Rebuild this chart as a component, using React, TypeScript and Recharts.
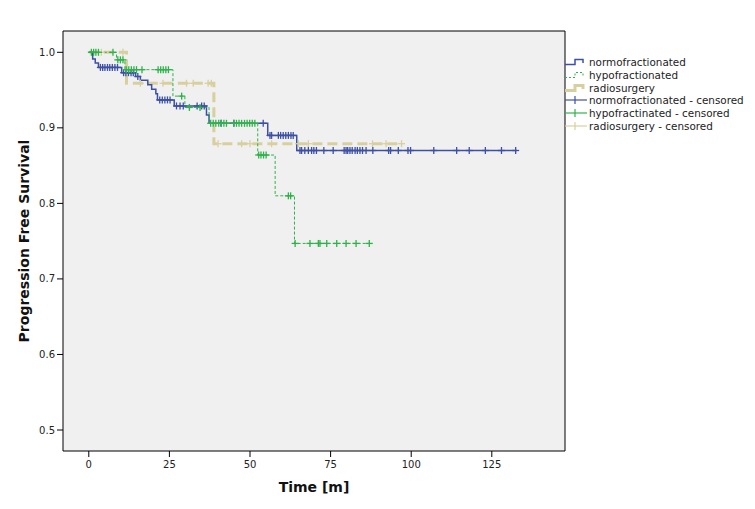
import React from "react";
import { ComposedChart, Line, Scatter, XAxis, YAxis, CartesianGrid, ReferenceArea } from "recharts";

const FONT = "'DejaVu Sans', sans-serif";
const BLUE = "#3d50a5";
const GREEN = "#2fb24a";
const TAN = "#d8cf9f";

// step curves (time in months, survival)
const normoT = [0, 1.2, 2.0, 3.0, 10.2, 14.5, 16.0, 18.3, 19.5, 20.8, 21.3, 26.5, 36.5, 37.3, 55.5, 64.5, 132.7];
const normoS = [1.0, 0.991, 0.986, 0.98, 0.973, 0.968, 0.963, 0.957, 0.951, 0.945, 0.937, 0.929, 0.917, 0.906, 0.89, 0.87, 0.87];

const hypoT = [0, 8.6, 11.2, 26.1, 29.8, 37.3, 52.4, 57.8, 63.8, 87.0];
const hypoS = [1.0, 0.99, 0.977, 0.942, 0.927, 0.906, 0.864, 0.81, 0.747, 0.747];

const radioT = [0, 11.7, 38.8, 97.2];
const radioS = [1.0, 0.959, 0.879, 0.879];

// censored times
const normoCens = [3.6, 4.3, 5.0, 5.8, 6.5, 7.3, 8.1, 8.9, 10.8, 11.5, 12.3, 13.1, 13.8, 15.2, 22.0, 22.8, 23.6, 24.4, 25.2, 27.2, 28.3, 29.3, 33.6, 35.0, 35.8, 41.0, 45.0, 54.1, 56.2, 56.7, 58.8, 59.5, 60.3, 61.1, 61.9, 62.7, 63.4, 65.5, 66.0, 67.0, 68.1, 69.1, 69.8, 70.6, 72.9, 75.8, 79.2, 79.8, 80.3, 81.0, 81.7, 82.6, 83.3, 84.1, 84.9, 86.0, 88.1, 93.0, 93.6, 96.0, 99.0, 99.8, 107.0, 114.1, 118.0, 123.0, 128.0, 132.4];
const hypoCens = [0.8, 1.5, 2.2, 3.0, 7.5, 9.0, 9.8, 10.6, 11.6, 12.4, 13.2, 14.0, 14.8, 16.5, 21.5, 22.3, 23.1, 23.9, 24.7, 28.8, 31.2, 34.5, 37.8, 38.6, 39.4, 40.3, 41.1, 41.9, 42.7, 45.0, 45.8, 46.6, 47.4, 48.3, 49.1, 49.9, 50.7, 51.5, 52.7, 53.4, 54.2, 55.0, 61.9, 62.6, 64.0, 68.6, 71.2, 71.7, 73.8, 76.9, 79.8, 82.9, 87.0];
const radioCens = [3.9, 10.6, 16.0, 23.0, 30.3, 32.4, 37.0, 38.0, 40.1, 47.4, 50.0, 56.7, 65.0, 68.1, 88.0, 92.2, 97.0];

const xTicks = [0, 25, 50, 75, 100, 125];
const yTicks = [0.5, 0.6, 0.7, 0.8, 0.9, 1.0];

const legendItems = [
  { label: "normofractionated", color: BLUE, kind: "step", dash: undefined, w: 1.5 },
  { label: "hypofractionated", color: GREEN, kind: "step", dash: "2 2", w: 1 },
  { label: "radiosurgery", color: TAN, kind: "step", dash: undefined, w: 3 },
  { label: "normofractionated - censored", color: BLUE, kind: "cens" },
  { label: "hypofractinated - censored", color: GREEN, kind: "cens" },
  { label: "radiosurgery - censored", color: TAN, kind: "cens" },
];

const steps = (ts: number[], ss: number[]) => ts.map((t, i) => ({ t, s: ss[i] }));
const levelAt = (ts: number[], ss: number[], t: number) => {
  let s = ss[0];
  for (let i = 0; i < ts.length; i++) if (ts[i] <= t) s = ss[i];
  return s;
};
const censored = (times: number[], ts: number[], ss: number[]) => times.map((t) => ({ t, s: levelAt(ts, ss, t) }));

const plus = (color: string) => (p: any) => (
  <g stroke={color} strokeWidth={1.3}>
    <line x1={p.cx - 3.5} x2={p.cx + 3.5} y1={p.cy} y2={p.cy} />
    <line x1={p.cx} x2={p.cx} y1={p.cy - 3.5} y2={p.cy + 3.5} />
  </g>
);

const tickStyle = { fontSize: 10, fill: "#222", fontFamily: FONT };

function Legend() {
  return (
    <div style={{ position: "absolute", left: 565, top: 56, fontFamily: FONT, fontSize: 10.4, color: "#222" }}>
      {legendItems.map((it) => (
        <div key={it.label} style={{ display: "flex", alignItems: "center", height: 12.7, whiteSpace: "nowrap" }}>
          <svg width={24} height={12} style={{ display: "block" }}>
            {it.kind === "step" ? (
              <path d="M0 8.5H10V3.5H18V7" fill="none" stroke={it.color} strokeWidth={it.w} strokeDasharray={it.dash} />
            ) : (
              <g stroke={it.color} strokeWidth={1.2}>
                <line x1={0} x2={22} y1={6} y2={6} />
                <line x1={10} x2={10} y1={2} y2={10} />
              </g>
            )}
          </svg>
          <span>{it.label}</span>
        </div>
      ))}
    </div>
  );
}

export default function App() {
  const X0 = -8;
  const X1 = 147.7;
  const Y0 = 0.4722;
  const Y1 = 1.0282;
  return (
    <div style={{ position: "relative", width: 755, height: 509, margin: -8, background: "#fff" }}>
      <ComposedChart width={755} height={509} margin={{ top: 31, right: 190, bottom: 28, left: 3 }}>
        <CartesianGrid fill="#f0f0f0" horizontal={false} vertical={false} />
        <XAxis
          type="number"
          dataKey="t"
          domain={[X0, X1]}
          allowDataOverflow
          ticks={xTicks}
          height={30}
          tickSize={6}
          tickMargin={4}
          axisLine={false}
          tickLine={{ stroke: "#000" }}
          tick={tickStyle}
          label={(props: any) => {
            const vb = props.viewBox;
            return (
              <text x={vb.x + vb.width / 2} y={492} textAnchor="middle" fontFamily={FONT} fontWeight="bold" fontSize={14} fill="#111">
                Time [m]
              </text>
            );
          }}
        />
        <YAxis
          type="number"
          domain={[Y0, Y1]}
          allowDataOverflow
          ticks={yTicks}
          width={60}
          tickSize={6}
          tickMargin={2}
          axisLine={false}
          tickLine={{ stroke: "#000" }}
          tick={tickStyle}
          tickFormatter={(v: number) => v.toFixed(1)}
          label={(props: any) => {
            const vb = props.viewBox;
            const cy = vb.y + vb.height / 2;
            return (
              <text x={29} y={cy} transform={`rotate(-90 29 ${cy})`} textAnchor="middle" fontFamily={FONT} fontWeight="bold" fontSize={14} fill="#111">
                Progression Free Survival
              </text>
            );
          }}
        />
        <ReferenceArea x1={X0} x2={X1} y1={Y0} y2={Y1} fill="none" stroke="#000" strokeWidth={1} />
        <Line data={steps(radioT, radioS)} dataKey="s" type="stepAfter" stroke={TAN} strokeWidth={3} strokeDasharray="10 5" dot={false} isAnimationActive={false} />
        <Line data={steps(normoT, normoS)} dataKey="s" type="stepAfter" stroke={BLUE} strokeWidth={1.5} dot={false} isAnimationActive={false} />
        <Line data={steps(hypoT, hypoS)} dataKey="s" type="stepAfter" stroke={GREEN} strokeWidth={1} strokeDasharray="3 2" dot={false} isAnimationActive={false} />
        <Scatter data={censored(radioCens, radioT, radioS)} dataKey="s" shape={plus(TAN)} isAnimationActive={false} />
        <Scatter data={censored(normoCens, normoT, normoS)} dataKey="s" shape={plus(BLUE)} isAnimationActive={false} />
        <Scatter data={censored(hypoCens, hypoT, hypoS)} dataKey="s" shape={plus(GREEN)} isAnimationActive={false} />
      </ComposedChart>
      <Legend />
    </div>
  );
}
